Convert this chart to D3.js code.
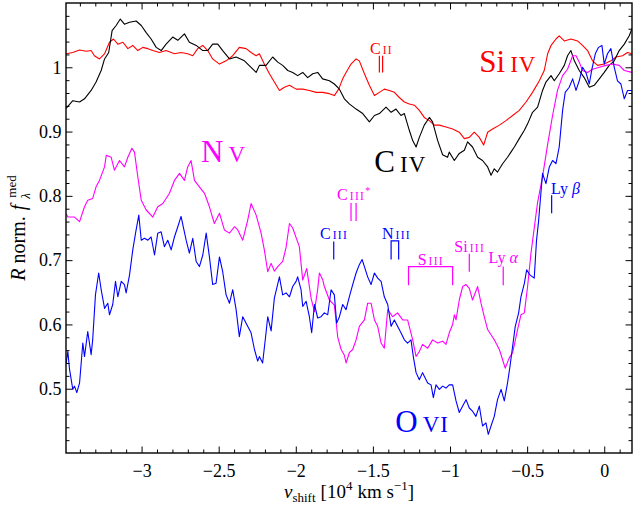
<!DOCTYPE html>
<html><head><meta charset="utf-8">
<script src="https://cdn.jsdelivr.net/npm/d3@7"></script>
<style>
body{margin:0;background:#fff}
text{font-family:"Liberation Serif","DejaVu Serif",serif}
</style>
</head><body>
<svg id="c" width="633" height="510"></svg>
<script>
// ---------- data ----------
const xTickVals = [-3, -2.5, -2, -1.5, -1, -0.5, 0];
const xTickLabels = ["\u22123", "\u22122.5", "\u22122", "\u22121.5", "\u22121", "\u22120.5", "0"];
const yTickVals = [0.5, 0.6, 0.7, 0.8, 0.9, 1];
const yTickLabels = ["0.5", "0.6", "0.7", "0.8", "0.9", "1"];

const civ = [[-3.489,0.936],[-3.446,0.948],[-3.402,0.946],[-3.370,0.951],[-3.327,0.964],[-3.295,0.977],[-3.262,0.995],[-3.240,1.013],[-3.213,1.023],[-3.191,1.057],[-3.165,1.065],[-3.138,1.075],[-3.111,1.067],[-3.078,1.070],[-3.035,1.072],[-3.002,1.065],[-2.970,1.054],[-2.938,1.044],[-2.905,1.031],[-2.873,1.026],[-2.841,1.036],[-2.798,1.047],[-2.765,1.042],[-2.722,1.052],[-2.690,1.039],[-2.646,1.034],[-2.603,1.026],[-2.571,1.026],[-2.539,1.036],[-2.506,1.036],[-2.474,1.026],[-2.430,1.013],[-2.387,1.016],[-2.333,1.010],[-2.290,1.000],[-2.257,0.992],[-2.236,1.003],[-2.193,1.003],[-2.150,1.016],[-2.117,1.008],[-2.085,1.003],[-2.052,0.995],[-2.020,0.992],[-1.988,0.987],[-1.955,0.992],[-1.923,0.984],[-1.890,0.990],[-1.858,0.992],[-1.826,0.982],[-1.782,0.979],[-1.750,0.974],[-1.717,0.966],[-1.685,0.951],[-1.653,0.943],[-1.609,0.935],[-1.566,0.928],[-1.523,0.915],[-1.490,0.925],[-1.458,0.928],[-1.415,0.938],[-1.382,0.930],[-1.350,0.935],[-1.318,0.925],[-1.296,0.928],[-1.264,0.902],[-1.242,0.886],[-1.220,0.876],[-1.199,0.891],[-1.167,0.910],[-1.134,0.922],[-1.113,0.915],[-1.080,0.886],[-1.048,0.864],[-1.016,0.860],[-1.005,0.868],[-0.972,0.855],[-0.940,0.866],[-0.907,0.871],[-0.886,0.884],[-0.854,0.876],[-0.821,0.860],[-0.789,0.855],[-0.756,0.845],[-0.734,0.832],[-0.713,0.842],[-0.692,0.837],[-0.659,0.850],[-0.627,0.860],[-0.605,0.868],[-0.583,0.876],[-0.551,0.889],[-0.518,0.902],[-0.497,0.912],[-0.465,0.930],[-0.432,0.938],[-0.400,0.964],[-0.378,0.977],[-0.345,0.987],[-0.324,0.979],[-0.292,0.990],[-0.259,1.003],[-0.238,1.018],[-0.216,1.026],[-0.194,1.010],[-0.162,0.995],[-0.130,0.984],[-0.097,0.969],[-0.065,0.972],[-0.032,0.982],[0,0.992],[0.032,1.003],[0.065,1.010],[0.097,1.026],[0.130,1.036],[0.162,1.049],[0.180,1.060]];

const siiv = [[-3.489,1.021],[-3.446,1.023],[-3.402,1.027],[-3.359,1.025],[-3.327,1.026],[-3.306,1.018],[-3.273,1.013],[-3.240,1.021],[-3.208,1.039],[-3.182,1.044],[-3.154,1.036],[-3.121,1.039],[-3.089,1.029],[-3.057,1.034],[-3.024,1.026],[-2.992,1.031],[-2.959,1.029],[-2.927,1.026],[-2.884,1.023],[-2.841,1.026],[-2.787,1.021],[-2.744,1.023],[-2.701,1.021],[-2.668,1.018],[-2.636,1.029],[-2.603,1.034],[-2.571,1.026],[-2.539,1.013],[-2.495,1.005],[-2.452,1.010],[-2.409,1.018],[-2.366,1.031],[-2.322,1.029],[-2.290,1.023],[-2.257,1.018],[-2.236,1.021],[-2.204,1.005],[-2.171,0.990],[-2.139,0.977],[-2.106,0.964],[-2.074,0.969],[-2.041,0.972],[-1.998,0.966],[-1.955,0.966],[-1.912,0.964],[-1.868,0.961],[-1.826,0.961],[-1.782,0.959],[-1.750,0.956],[-1.722,0.966],[-1.696,0.982],[-1.674,0.992],[-1.642,1.005],[-1.609,1.013],[-1.588,1.010],[-1.555,0.990],[-1.523,0.972],[-1.490,0.956],[-1.458,0.961],[-1.426,0.966],[-1.393,0.964],[-1.361,0.961],[-1.329,0.953],[-1.296,0.946],[-1.264,0.943],[-1.231,0.941],[-1.199,0.933],[-1.167,0.922],[-1.134,0.917],[-1.102,0.910],[-1.069,0.910],[-1.026,0.907],[-0.983,0.904],[-0.940,0.899],[-0.907,0.889],[-0.875,0.891],[-0.843,0.899],[-0.810,0.891],[-0.782,0.879],[-0.756,0.899],[-0.724,0.904],[-0.680,0.910],[-0.637,0.917],[-0.594,0.925],[-0.551,0.933],[-0.507,0.946],[-0.465,0.961],[-0.421,0.979],[-0.389,0.995],[-0.367,1.021],[-0.345,1.034],[-0.313,1.044],[-0.292,1.049],[-0.259,1.041],[-0.216,1.044],[-0.173,1.041],[-0.141,1.034],[-0.108,1.026],[-0.076,1.010],[-0.043,1.003],[0,1.005],[0.043,1.010],[0.076,1.016],[0.119,1.018],[0.151,1.023],[0.180,1.021]];

const nv = [[-3.489,0.772],[-3.478,0.767],[-3.435,0.767],[-3.402,0.760],[-3.370,0.783],[-3.349,0.793],[-3.317,0.796],[-3.295,0.814],[-3.273,0.824],[-3.240,0.845],[-3.229,0.863],[-3.197,0.860],[-3.176,0.840],[-3.143,0.855],[-3.111,0.845],[-3.089,0.860],[-3.063,0.874],[-3.046,0.868],[-3.024,0.829],[-3.002,0.793],[-2.970,0.778],[-2.927,0.767],[-2.895,0.783],[-2.862,0.788],[-2.819,0.804],[-2.787,0.824],[-2.754,0.835],[-2.722,0.824],[-2.701,0.845],[-2.679,0.855],[-2.657,0.824],[-2.625,0.814],[-2.592,0.804],[-2.560,0.783],[-2.528,0.757],[-2.495,0.773],[-2.463,0.747],[-2.430,0.742],[-2.398,0.752],[-2.376,0.747],[-2.344,0.731],[-2.312,0.762],[-2.290,0.788],[-2.257,0.770],[-2.225,0.742],[-2.204,0.716],[-2.182,0.682],[-2.160,0.695],[-2.139,0.683],[-2.117,0.690],[-2.085,0.698],[-2.063,0.720],[-2.041,0.757],[-2.020,0.750],[-1.998,0.735],[-1.977,0.721],[-1.955,0.669],[-1.929,0.687],[-1.901,0.641],[-1.879,0.620],[-1.858,0.655],[-1.847,0.680],[-1.826,0.670],[-1.815,0.659],[-1.782,0.638],[-1.750,0.630],[-1.728,0.580],[-1.706,0.561],[-1.685,0.552],[-1.674,0.540],[-1.653,0.556],[-1.631,0.561],[-1.609,0.576],[-1.588,0.597],[-1.555,0.607],[-1.534,0.633],[-1.512,0.633],[-1.490,0.607],[-1.469,0.597],[-1.447,0.571],[-1.426,0.563],[-1.404,0.623],[-1.372,0.612],[-1.340,0.618],[-1.307,0.607],[-1.275,0.607],[-1.242,0.576],[-1.220,0.550],[-1.199,0.558],[-1.178,0.569],[-1.145,0.563],[-1.113,0.576],[-1.080,0.571],[-1.048,0.574],[-1.026,0.569],[-1.005,0.587],[-0.983,0.600],[-0.972,0.615],[-0.961,0.607],[-0.940,0.638],[-0.918,0.659],[-0.896,0.662],[-0.875,0.656],[-0.854,0.638],[-0.821,0.659],[-0.799,0.633],[-0.778,0.612],[-0.756,0.592],[-0.734,0.584],[-0.713,0.576],[-0.680,0.561],[-0.659,0.545],[-0.642,0.532],[-0.616,0.548],[-0.594,0.556],[-0.562,0.592],[-0.540,0.615],[-0.518,0.618],[-0.497,0.659],[-0.475,0.711],[-0.443,0.770],[-0.432,0.790],[-0.400,0.830],[-0.367,0.880],[-0.335,0.925],[-0.303,0.964],[-0.270,0.987],[-0.238,0.997],[-0.205,1.018],[-0.183,1.018],[-0.162,1.008],[-0.141,0.995],[-0.108,0.992],[-0.076,0.997],[-0.032,1.000],[0.011,1.003],[0.054,1.005],[0.097,1.003],[0.130,0.995],[0.180,0.992]];

const ovi = [[-3.489,0.540],[-3.478,0.558],[-3.467,0.530],[-3.446,0.499],[-3.435,0.504],[-3.420,0.494],[-3.402,0.509],[-3.381,0.571],[-3.370,0.550],[-3.349,0.589],[-3.327,0.553],[-3.317,0.576],[-3.299,0.646],[-3.278,0.680],[-3.262,0.654],[-3.240,0.625],[-3.219,0.633],[-3.208,0.615],[-3.187,0.631],[-3.169,0.667],[-3.154,0.643],[-3.132,0.667],[-3.111,0.662],[-3.100,0.649],[-3.078,0.677],[-3.057,0.716],[-3.039,0.742],[-3.018,0.770],[-3.002,0.731],[-2.981,0.734],[-2.959,0.731],[-2.938,0.736],[-2.916,0.708],[-2.895,0.742],[-2.873,0.744],[-2.852,0.721],[-2.830,0.731],[-2.808,0.716],[-2.787,0.736],[-2.765,0.752],[-2.744,0.768],[-2.711,0.731],[-2.690,0.711],[-2.668,0.734],[-2.646,0.698],[-2.625,0.690],[-2.603,0.708],[-2.581,0.742],[-2.560,0.705],[-2.539,0.662],[-2.517,0.664],[-2.495,0.705],[-2.474,0.682],[-2.452,0.646],[-2.430,0.633],[-2.409,0.654],[-2.387,0.623],[-2.366,0.581],[-2.344,0.612],[-2.312,0.597],[-2.290,0.587],[-2.268,0.561],[-2.247,0.543],[-2.236,0.550],[-2.215,0.540],[-2.193,0.587],[-2.182,0.612],[-2.160,0.590],[-2.139,0.641],[-2.106,0.674],[-2.085,0.646],[-2.063,0.649],[-2.041,0.643],[-2.020,0.659],[-1.998,0.667],[-1.988,0.674],[-1.966,0.654],[-1.955,0.628],[-1.933,0.636],[-1.912,0.612],[-1.897,0.587],[-1.879,0.631],[-1.858,0.610],[-1.836,0.612],[-1.815,0.618],[-1.793,0.615],[-1.771,0.654],[-1.750,0.646],[-1.735,0.602],[-1.717,0.612],[-1.696,0.631],[-1.674,0.623],[-1.653,0.643],[-1.631,0.662],[-1.609,0.680],[-1.588,0.693],[-1.570,0.701],[-1.555,0.690],[-1.534,0.674],[-1.512,0.662],[-1.490,0.680],[-1.469,0.672],[-1.447,0.667],[-1.426,0.643],[-1.404,0.631],[-1.382,0.597],[-1.361,0.607],[-1.340,0.597],[-1.318,0.587],[-1.296,0.576],[-1.275,0.571],[-1.253,0.576],[-1.238,0.550],[-1.220,0.525],[-1.199,0.514],[-1.178,0.525],[-1.145,0.509],[-1.123,0.506],[-1.108,0.486],[-1.091,0.506],[-1.069,0.499],[-1.048,0.504],[-1.026,0.501],[-1.005,0.506],[-0.983,0.506],[-0.961,0.481],[-0.940,0.463],[-0.918,0.473],[-0.896,0.483],[-0.875,0.470],[-0.854,0.465],[-0.832,0.457],[-0.810,0.473],[-0.789,0.442],[-0.767,0.447],[-0.752,0.429],[-0.734,0.442],[-0.713,0.457],[-0.692,0.483],[-0.669,0.499],[-0.648,0.481],[-0.627,0.509],[-0.611,0.535],[-0.594,0.566],[-0.577,0.597],[-0.555,0.618],[-0.540,0.643],[-0.518,0.664],[-0.503,0.685],[-0.482,0.677],[-0.454,0.672],[-0.439,0.731],[-0.426,0.760],[-0.400,0.835],[-0.378,0.819],[-0.356,0.845],[-0.335,0.855],[-0.313,0.850],[-0.292,0.876],[-0.270,0.933],[-0.253,0.961],[-0.227,0.969],[-0.205,0.982],[-0.183,0.964],[-0.162,0.979],[-0.141,1.000],[-0.119,0.992],[-0.097,0.974],[-0.080,0.997],[-0.058,1.021],[-0.037,1.031],[-0.015,1.034],[0,1.005],[0.021,1.021],[0.043,1.029],[0.065,1.000],[0.086,0.979],[0.108,0.974],[0.130,0.951],[0.151,0.964],[0.180,0.964]];

// ion labels (main) and line identifications (velocity of marker, top/bottom R)
const ionNames = ["Si", "C", "N", "O"];
const ionStages = ["IV", "IV", "V", "VI"];
const ionLabelV = [-0.810, -1.491, -2.614, -1.355];
const ionLabelR = [0.992, 0.837, 0.853, 0.432];

const lineNames = ["C", "C", "C", "N", "S", "Si", "Ly", "Ly"];
const lineStages = ["II", "III", "III", "III", "III", "III", "\u03b1", "\u03b2"];
const lineStar = ["", "*", "", "", "", "", "", ""];
const lineLabelV = [-1.519, -1.732, -1.843, -1.441, -1.210, -0.972, -0.750, -0.345];
const lineLabelR = [1.021, 0.793, 0.733, 0.733, 0.693, 0.712, 0.695, 0.803];
const lineMarkV = [[-1.458,-1.437],[-1.642,-1.609],[-1.754],[-1.382,-1.333],[-1.269,-0.983],[-0.875],[-0.655],[-0.341]];
const lineMarkJoined = [false, false, false, true, true, false, false, false];
const lineMarkTop = [1.018, 0.789, 0.729, 0.730, 0.690, 0.710, 0.690, 0.801];
const lineMarkBot = [0.992, 0.761, 0.701, 0.701, 0.661, 0.682, 0.661, 0.773];

// ---------- drawing ----------
const RED = "#ff0000", BLK = "#000000", MAG = "#ff00ff", BLU = "#0000ff";
const ionColors = [RED, BLK, MAG, BLU];
const lineColors = [RED, MAG, BLU, BLU, MAG, MAG, MAG, BLU];

const svg = d3.select("#c");
const L = 66, R = 632, T = 3, B = 453;
const x = d3.scaleLinear().domain([-3.49, 0.18]).range([L, R]);
const y = d3.scaleLinear().domain([0.4, 1.1]).range([B, T]);

svg.append("defs").append("clipPath").attr("id", "clip")
  .append("rect").attr("x", L).attr("y", T).attr("width", R - L).attr("height", B - T);

const line = d3.line().x(d => x(d[0])).y(d => y(d[1]));
const plot = svg.append("g").attr("clip-path", "url(#clip)");
[[siiv, RED], [civ, BLK], [nv, MAG], [ovi, BLU]].forEach(([data, col]) => {
  plot.append("path").attr("d", line(data)).attr("fill", "none")
    .attr("stroke", col).attr("stroke-width", 1.1).attr("stroke-linejoin", "round");
});

// axes
const xMinor = d3.range(-34, 2).map(i => i / 10).filter(v => !xTickVals.some(t => Math.abs(t - v) < 1e-6));
const yMinor = d3.range(21, 55).map(i => i / 50).filter(v => !yTickVals.some(t => Math.abs(t - v) < 1e-6));

function styleAxis(g) {
  g.select(".domain").remove();
  g.selectAll(".tick line").attr("stroke", "#000").attr("stroke-width", 1);
  g.selectAll("text").attr("font-size", 18).attr("fill", "#000")
   .attr("font-family", '"Liberation Serif","DejaVu Serif",serif');
}
svg.append("g").attr("transform", `translate(0,${B})`)
  .call(d3.axisBottom(x).tickValues(xTickVals).tickFormat((d, i) => xTickLabels[i]).tickSizeInner(-6.5).tickSizeOuter(0).tickPadding(11))
  .call(styleAxis);
svg.append("g").attr("transform", `translate(0,${B})`)
  .call(d3.axisBottom(x).tickValues(xMinor).tickFormat("").tickSizeInner(-3.5).tickSizeOuter(0)).call(styleAxis);
svg.append("g").attr("transform", `translate(0,${T})`)
  .call(d3.axisTop(x).tickValues(xTickVals).tickFormat("").tickSizeInner(-6.5).tickSizeOuter(0)).call(styleAxis);
svg.append("g").attr("transform", `translate(0,${T})`)
  .call(d3.axisTop(x).tickValues(xMinor).tickFormat("").tickSizeInner(-3.5).tickSizeOuter(0)).call(styleAxis);
svg.append("g").attr("transform", `translate(${L},0)`)
  .call(d3.axisLeft(y).tickValues(yTickVals).tickFormat((d, i) => yTickLabels[i]).tickSizeInner(-6.5).tickSizeOuter(0).tickPadding(4.5))
  .call(styleAxis);
svg.append("g").attr("transform", `translate(${L},0)`)
  .call(d3.axisLeft(y).tickValues(yMinor).tickFormat("").tickSizeInner(-3.5).tickSizeOuter(0)).call(styleAxis);
svg.append("g").attr("transform", `translate(${R},0)`)
  .call(d3.axisRight(y).tickValues(yTickVals).tickFormat("").tickSizeInner(-6.5).tickSizeOuter(0)).call(styleAxis);
svg.append("g").attr("transform", `translate(${R},0)`)
  .call(d3.axisRight(y).tickValues(yMinor).tickFormat("").tickSizeInner(-3.5).tickSizeOuter(0)).call(styleAxis);

svg.append("rect").attr("x", L).attr("y", T).attr("width", R - L).attr("height", B - T)
  .attr("fill", "none").attr("stroke", "#000").attr("stroke-width", 1.4);

// ion labels
ionNames.forEach((n, i) => {
  const t = svg.append("text").attr("x", x(ionLabelV[i])).attr("y", y(ionLabelR[i]))
    .attr("fill", ionColors[i]);
  t.append("tspan").attr("font-size", 31).text(n);
  t.append("tspan").attr("font-size", 23).attr("dx", 5).attr("letter-spacing", 1).text(ionStages[i]);
});

// line identifications
lineNames.forEach((n, i) => {
  const col = lineColors[i];
  const t = svg.append("text").attr("x", x(lineLabelV[i])).attr("y", y(lineLabelR[i])).attr("fill", col);
  t.append("tspan").attr("font-size", 16).text(n);
  const greek = lineStages[i] === "\u03b1" || lineStages[i] === "\u03b2";
  t.append("tspan").attr("font-size", greek ? 16 : 11.5).attr("dx", greek ? 4 : 2)
    .attr("letter-spacing", greek ? 0 : 1.3).attr("font-style", greek ? "italic" : "normal")
    .text(lineStages[i]);
  if (lineStar[i]) t.append("tspan").attr("font-size", 10).attr("dy", -6).text(lineStar[i]);

  const vs = lineMarkV[i];
  const g = svg.append("g").attr("stroke", col).attr("stroke-width", 1.2).attr("fill", "none");
  if (lineMarkJoined[i]) {
    const p = d3.path();
    p.moveTo(x(vs[0]), y(lineMarkBot[i]));
    p.lineTo(x(vs[0]), y(lineMarkTop[i]));
    p.lineTo(x(vs[1]), y(lineMarkTop[i]));
    p.lineTo(x(vs[1]), y(lineMarkBot[i]));
    g.append("path").attr("d", p.toString());
  } else {
    vs.forEach(v => g.append("line").attr("x1", x(v)).attr("x2", x(v))
      .attr("y1", y(lineMarkTop[i])).attr("y2", y(lineMarkBot[i])));
  }
});

// x label
const xl = svg.append("text").attr("x", (L + R) / 2).attr("y", 498).attr("text-anchor", "middle")
  .attr("font-size", 19).attr("fill", "#000");
xl.append("tspan").attr("font-style", "italic").text("v");
xl.append("tspan").attr("font-size", 13).attr("dy", 4).text("shift");
xl.append("tspan").attr("dy", -4).attr("dx", 5).text("[10");
xl.append("tspan").attr("font-size", 13).attr("dy", -8).text("4");
xl.append("tspan").attr("dy", 8).attr("dx", 5).text("km s");
xl.append("tspan").attr("font-size", 13).attr("dy", -8).text("\u22121");
xl.append("tspan").attr("dy", 8).text("]");

// y label (rotated)
const yg = svg.append("g").attr("transform", `translate(25,${(T + B) / 2}) rotate(-90)`);
const yl = yg.append("text").attr("font-size", 20).attr("fill", "#000");
yl.append("tspan").attr("font-style", "italic").text("R");
yl.append("tspan").attr("dx", 5).text("norm.");
yl.append("tspan").attr("dx", 6).attr("font-style", "italic").text("f");
const mainLen = yl.node().getComputedTextLength() + 16;
const sup = yg.append("text").attr("font-size", 13).attr("fill", "#000").attr("y", -9).text("med");
const sub = yg.append("text").attr("font-size", 13).attr("fill", "#000").attr("font-style", "italic").attr("y", 5).text("\u03bb");
const supLen = sup.node().getComputedTextLength();
const total = mainLen + 2 + supLen;
yl.attr("x", -total / 2);
sup.attr("x", -total / 2 + mainLen + 2);
sub.attr("x", -total / 2 + mainLen + 1);
</script>
</body></html>
